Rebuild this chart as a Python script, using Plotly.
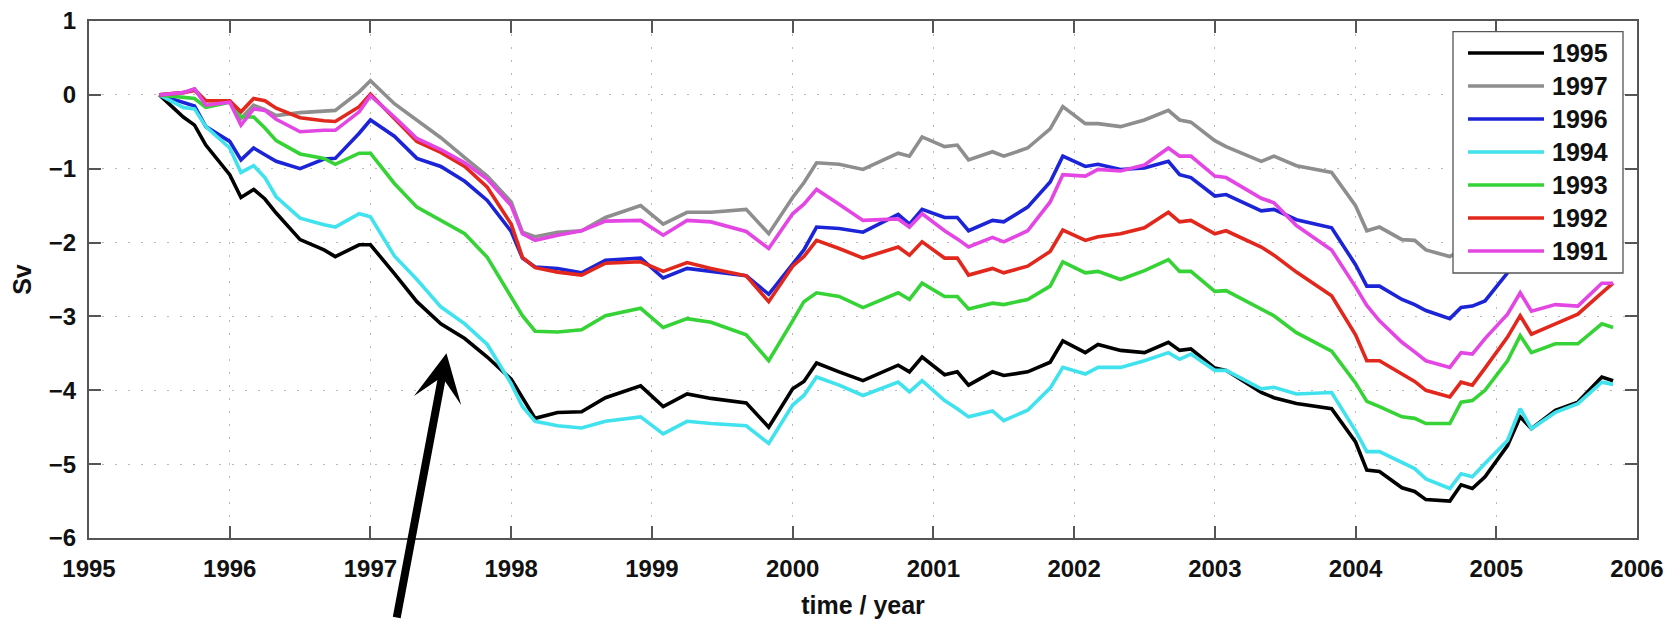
import plotly.graph_objects as go

# ---- data -------------------------------------------------------------
time_year = [
    1995.50, 1995.67, 1995.75, 1995.83, 1996.00, 1996.08, 1996.17, 1996.25, 1996.33, 1996.50,
    1996.67, 1996.75, 1996.92, 1997.00, 1997.17, 1997.33, 1997.50, 1997.67, 1997.83, 1998.00,
    1998.08, 1998.17, 1998.33, 1998.50, 1998.67, 1998.92, 1999.08, 1999.25, 1999.42, 1999.67,
    1999.83, 2000.00, 2000.08, 2000.17, 2000.33, 2000.50, 2000.75, 2000.83, 2000.92, 2001.08,
    2001.17, 2001.25, 2001.42, 2001.50, 2001.67, 2001.83, 2001.92, 2002.08, 2002.17, 2002.33,
    2002.50, 2002.67, 2002.75, 2002.83, 2003.00, 2003.08, 2003.33, 2003.42, 2003.58, 2003.83,
    2004.00, 2004.08, 2004.17, 2004.33, 2004.42, 2004.50, 2004.67, 2004.75, 2004.83, 2004.92,
    2005.08, 2005.17, 2005.25, 2005.42, 2005.58, 2005.75, 2005.83,
]

sv_1995 = [
    0.00, -0.30, -0.41, -0.68, -1.08, -1.39, -1.28, -1.41, -1.60, -1.96,
    -2.10, -2.19, -2.03, -2.03, -2.42, -2.80, -3.10, -3.30, -3.55, -3.85,
    -4.10, -4.38, -4.30, -4.29, -4.10, -3.94, -4.22, -4.05, -4.11, -4.17,
    -4.50, -3.98, -3.88, -3.63, -3.75, -3.87, -3.66, -3.75, -3.55, -3.79,
    -3.75, -3.93, -3.75, -3.80, -3.75, -3.62, -3.33, -3.49, -3.38, -3.46,
    -3.49, -3.35, -3.46, -3.44, -3.70, -3.73, -4.03, -4.10, -4.18, -4.25,
    -4.70, -5.08, -5.10, -5.32, -5.37, -5.48, -5.50, -5.28, -5.33, -5.17,
    -4.75, -4.36, -4.52, -4.27, -4.16, -3.82, -3.87,
]

sv_1997 = [
    0.00, 0.03, 0.08, -0.08, -0.08, -0.32, -0.14, -0.20, -0.28, -0.24,
    -0.22, -0.21, 0.04, 0.19, -0.12, -0.34, -0.58, -0.85, -1.10, -1.45,
    -1.86, -1.92, -1.86, -1.84, -1.66, -1.50, -1.75, -1.59, -1.59, -1.55,
    -1.88, -1.39, -1.19, -0.92, -0.94, -1.01, -0.79, -0.83, -0.57, -0.70,
    -0.68, -0.88, -0.77, -0.83, -0.72, -0.46, -0.16, -0.39, -0.39, -0.43,
    -0.34, -0.21, -0.34, -0.37, -0.62, -0.70, -0.90, -0.83, -0.96, -1.05,
    -1.50, -1.84, -1.79, -1.96, -1.97, -2.10, -2.19, -2.10, -2.05, -1.95,
    -1.60, -1.30, -1.50, -1.40, -1.35, -1.10, -1.10,
]

sv_1996 = [
    0.00, -0.10, -0.15, -0.43, -0.63, -0.88, -0.72, -0.81, -0.90, -1.00,
    -0.87, -0.86, -0.52, -0.34, -0.56, -0.86, -0.97, -1.17, -1.43, -1.85,
    -2.21, -2.33, -2.35, -2.41, -2.24, -2.21, -2.48, -2.35, -2.39, -2.45,
    -2.70, -2.28, -2.10, -1.79, -1.81, -1.86, -1.62, -1.75, -1.55, -1.66,
    -1.66, -1.84, -1.70, -1.72, -1.52, -1.18, -0.83, -0.97, -0.94, -1.01,
    -0.99, -0.90, -1.08, -1.12, -1.37, -1.35, -1.57, -1.55, -1.69, -1.80,
    -2.30, -2.59, -2.59, -2.77, -2.84, -2.92, -3.03, -2.88, -2.86, -2.79,
    -2.41, -2.05, -2.25, -2.15, -2.10, -1.85, -1.85,
]

sv_1994 = [
    0.00, -0.17, -0.19, -0.43, -0.72, -1.05, -0.96, -1.12, -1.38, -1.67,
    -1.76, -1.79, -1.61, -1.65, -2.18, -2.50, -2.87, -3.10, -3.38, -3.91,
    -4.22, -4.42, -4.48, -4.51, -4.42, -4.36, -4.59, -4.42, -4.45, -4.48,
    -4.72, -4.20, -4.07, -3.82, -3.93, -4.07, -3.89, -4.02, -3.87, -4.14,
    -4.25, -4.36, -4.28, -4.41, -4.27, -3.97, -3.69, -3.78, -3.69, -3.69,
    -3.60, -3.49, -3.58, -3.51, -3.73, -3.73, -3.98, -3.96, -4.05, -4.03,
    -4.55, -4.83, -4.83, -4.98, -5.06, -5.20, -5.33, -5.13, -5.17, -4.99,
    -4.68, -4.25, -4.52, -4.30, -4.18, -3.89, -3.92,
]

sv_1993 = [
    0.00, -0.03, -0.05, -0.17, -0.10, -0.30, -0.30, -0.45, -0.62, -0.80,
    -0.86, -0.94, -0.79, -0.79, -1.20, -1.52, -1.70, -1.88, -2.20, -2.75,
    -2.99, -3.20, -3.21, -3.18, -2.99, -2.89, -3.15, -3.03, -3.08, -3.25,
    -3.60, -3.06, -2.80, -2.68, -2.73, -2.88, -2.68, -2.77, -2.55, -2.73,
    -2.73, -2.90, -2.82, -2.84, -2.77, -2.59, -2.26, -2.41, -2.39, -2.50,
    -2.38, -2.23, -2.39, -2.39, -2.66, -2.65, -2.90, -2.99, -3.22, -3.47,
    -3.90, -4.15, -4.22, -4.36, -4.38, -4.45, -4.45, -4.16, -4.14, -4.00,
    -3.60, -3.26, -3.49, -3.37, -3.37, -3.10, -3.15,
]

sv_1992 = [
    0.00, 0.03, 0.06, -0.08, -0.08, -0.23, -0.05, -0.08, -0.18, -0.31,
    -0.35, -0.36, -0.16, 0.01, -0.32, -0.63, -0.78, -0.97, -1.25, -1.75,
    -2.20, -2.34, -2.40, -2.44, -2.28, -2.26, -2.39, -2.27, -2.35, -2.45,
    -2.80, -2.32, -2.19, -1.97, -2.08, -2.21, -2.06, -2.17, -1.99, -2.21,
    -2.21, -2.44, -2.35, -2.41, -2.32, -2.12, -1.83, -1.97, -1.92, -1.88,
    -1.80, -1.59, -1.72, -1.70, -1.88, -1.84, -2.06, -2.17, -2.40, -2.72,
    -3.25, -3.60, -3.60, -3.78, -3.88, -4.00, -4.09, -3.89, -3.93, -3.70,
    -3.28, -2.99, -3.24, -3.10, -2.97, -2.68, -2.55,
]

sv_1991 = [
    0.00, 0.03, 0.08, -0.14, -0.10, -0.41, -0.19, -0.21, -0.33, -0.50,
    -0.48, -0.48, -0.23, -0.01, -0.30, -0.59, -0.74, -0.92, -1.14, -1.50,
    -1.88, -1.97, -1.90, -1.84, -1.71, -1.70, -1.90, -1.70, -1.72, -1.85,
    -2.08, -1.61, -1.48, -1.28, -1.48, -1.70, -1.68, -1.79, -1.61, -1.84,
    -1.95, -2.06, -1.93, -1.99, -1.84, -1.45, -1.08, -1.10, -1.01, -1.03,
    -0.95, -0.72, -0.83, -0.83, -1.10, -1.12, -1.40, -1.46, -1.77, -2.10,
    -2.60, -2.85, -3.06, -3.35, -3.48, -3.60, -3.69, -3.49, -3.51, -3.30,
    -2.97, -2.68, -2.93, -2.84, -2.86, -2.55, -2.55,
]

series_names = ["1995", "1997", "1996", "1994", "1993", "1992", "1991"]
series_values = [sv_1995, sv_1997, sv_1996, sv_1994, sv_1993, sv_1992, sv_1991]
series_colors = ["#000000", "#8e8e8e", "#1b24d6", "#40e2ee", "#35d335", "#e2271d", "#e446e4"]

x_ticks = list(range(1995, 2007))
y_ticks = list(range(-6, 2))

# arrow pointing at the 1995 curve
arrow_tip_year = 1997.54
arrow_tip_sv = -3.50

# ---- layout geometry (pixels) ----------------------------------------
W, H = 1678, 619
ML, MR, MT, MB = 89, 41, 21, 81
PW, PH = W - ML - MR, H - MT - MB


def paper_x(px):
    return (px - ML) / PW


def paper_y(py):
    return (H - MB - py) / PH


FONT = "Liberation Sans, Arial, Helvetica, sans-serif"
TXT = "#111111"

fig = go.Figure()
for name, vals, color in zip(series_names, series_values, series_colors):
    fig.add_trace(go.Scatter(
        x=time_year, y=vals, mode="lines", name=name,
        line=dict(color=color, width=3.6), showlegend=False,
    ))

axis_common = dict(
    ticks="inside", ticklen=12, tickwidth=1.5, tickcolor="#555555",
    showline=True, linecolor="#555555", linewidth=2, mirror="ticks",
    showgrid=True, gridcolor="#b8b8b8", gridwidth=1, griddash="2px,11px",
    zeroline=False, automargin=False,
    tickfont=dict(family=FONT, size=24, color=TXT, weight="bold"),
)

fig.update_xaxes(
    range=[1995, 2006], tickmode="array", tickvals=x_ticks,
    ticktext=[str(v) for v in x_ticks], ticklabelstandoff=8,
    title=dict(text="time / year", standoff=17,
               font=dict(family=FONT, size=25, color=TXT, weight="bold")),
    **axis_common,
)
fig.update_yaxes(
    range=[-6, 1], tickmode="array", tickvals=y_ticks, ticklabelstandoff=6,
    title=dict(text="Sv", standoff=10,
               font=dict(family=FONT, size=25, color=TXT, weight="bold")),
    **axis_common,
)

# ---- legend box -------------------------------------------------------
shapes = [dict(
    type="rect", xref="paper", yref="paper", layer="above",
    x0=paper_x(1453), x1=paper_x(1623), y0=paper_y(273), y1=paper_y(31.7),
    fillcolor="white", line=dict(color="#555555", width=1.3),
)]
annotations = []
for i, (name, color) in enumerate(zip(series_names, series_colors)):
    row_y = paper_y(53 + 33 * i)
    shapes.append(dict(
        type="line", xref="paper", yref="paper", layer="above",
        x0=paper_x(1468), x1=paper_x(1544), y0=row_y, y1=row_y,
        line=dict(color=color, width=3.4),
    ))
    annotations.append(dict(
        xref="paper", yref="paper", x=paper_x(1550), y=row_y,
        xanchor="left", yanchor="middle", showarrow=False, text=name,
        font=dict(family=FONT, size=25, color=TXT, weight="bold"),
    ))

annotations.append(dict(
    xref="x", yref="y", x=arrow_tip_year, y=arrow_tip_sv,
    axref="pixel", ayref="pixel", ax=-50, ay=290, text="",
    showarrow=True, arrowhead=3, arrowsize=1.0, arrowwidth=8,
    arrowcolor="#000000",
))

fig.update_layout(
    width=W, height=H,
    margin=dict(l=ML, r=MR, t=MT, b=MB, pad=0),
    paper_bgcolor="white", plot_bgcolor="white",
    showlegend=False, shapes=shapes, annotations=annotations,
)

fig.write_html("out.html")
